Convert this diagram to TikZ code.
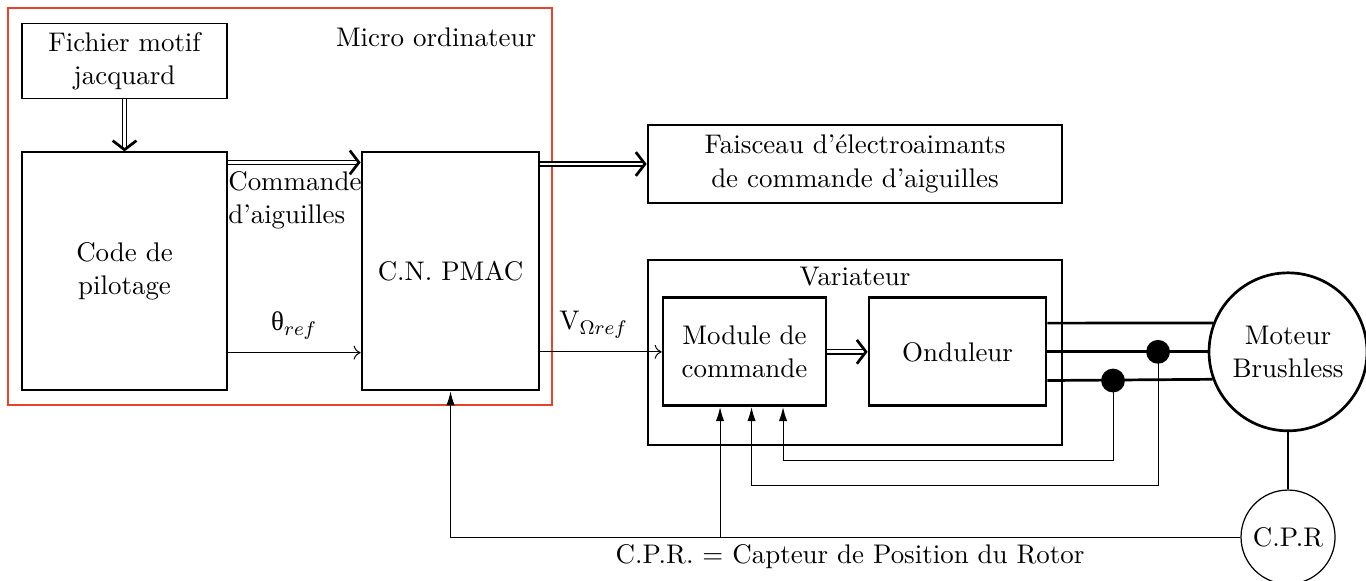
\documentclass[tikz,border=0pt]{standalone}
\usepackage{fontspec}
\newfontfamily\grk{Liberation Serif}
\usepackage{xcolor}
\usetikzlibrary{arrows.meta, calc}
\definecolor{framered}{RGB}{232,65,44}

\begin{document}
\begin{tikzpicture}[>={Stealth[length=2mm]}, every node/.style={font=\fontsize{10.95}{13.6}\selectfont},
  blk/.style={draw, align=center, line width=0.5pt},
  bigblk/.style={draw, align=center, line width=1.1pt},
  dbl/.style={double, double distance=1.2pt, line width=0.5pt, -{Straight Barb[length=1.3mm, width=3.4mm, line width=1.1pt]}},
  sig/.style={line width=0.4pt, -{To[length=1mm, width=2mm]}},
  fb/.style={line width=0.4pt, -{Latex[length=2mm, width=1.2mm]}},
  phase/.style={line width=1.1pt},
  dot/.style={circle, fill, inner sep=0pt, minimum size=0.34cm}]
  \useasboundingbox (0,0) rectangle (19.514,8.286);
  % micro ordinateur
  \node[draw=framered, line width=1pt, minimum width=7.77cm, minimum height=5.67cm, inner sep=0pt] (micro) at (4.0,5.336) {};
  \node[anchor=north east] (microlbl) at ($(micro.north east)+(-0.12,-0.18)$) {Micro ordinateur};
  \node[blk, minimum width=2.93cm, minimum height=1.03cm] (fichier) at (1.779,7.414) {Fichier motif\\jacquard};
  \node[blk, minimum width=2.93cm, minimum height=3.4cm] (code) at (1.779,4.414) {Code de\\pilotage};
  \node[bigblk, minimum width=2.53cm, minimum height=3.4cm] (pmac) at (6.436,4.414) {C.N. PMAC};
  % machine
  \node[bigblk, minimum width=5.914cm, minimum height=1.114cm] (fais) at (12.214,5.943) {Faisceau d'électroaimants\\de commande d'aiguilles};
  \node[bigblk, minimum width=5.914cm, minimum height=2.643cm] (var) at (12.214,3.25) {};
  \node[anchor=north] (varlbl) at (var.north) {Variateur};
  \node[bigblk, minimum width=2.329cm, minimum height=1.543cm] (module) at (10.636,3.26) {Module de\\commande};
  \node[bigblk, minimum width=2.529cm, minimum height=1.543cm] (ond) at (13.679,3.26) {Onduleur};
  \node[circle, draw, line width=1.1pt, minimum size=2.257cm, align=center] (motor) at (18.4,3.26) {Moteur\\Brushless};
  \node[circle, draw, line width=0.5pt, minimum size=1.343cm] (cpr) at (18.4,0.614) {C.P.R};
  \node (cprnote) at (12.143,0.329) {C.P.R. = Capteur de Position du Rotor};
  % liaisons
  \coordinate (cmd) at ($(code.north east)+(0,-0.157)$);
  \coordinate (tref) at ($(code.south east)+(0,0.543)$);
  \draw[dbl] (fichier) -- (code);
  \draw[dbl] (cmd) -- (pmac.west |- cmd) node[at start, anchor=north west, align=left, inner xsep=0pt] {Commande\\d'aiguilles};
  \draw[sig] (tref) -- (pmac.west |- tref) node[midway, above=2pt] {{\grk θ}$_{ref}$};
  \draw[dbl] (pmac.east |- fais.west) -- (fais.west);
  \draw[sig] (pmac.east |- module.west) -- (module.west) node[midway, above=2pt, xshift=-3pt] {V$_{\Omega ref}$};
  \draw[dbl] (module) -- (ond);
  \draw[phase] ($(ond.east)+(0,0.41)$) -- (motor.159.1);
  \draw[phase] (ond.east) -- (motor.west);
  \draw[phase] ($(ond.east)+(0,-0.41)$) -- (motor.200.9);
  \draw[line width=0.5pt] (motor) -- (cpr);
  % retours capteur
  \coordinate (in1) at ($(module.south)+(-0.35,0)$);
  \coordinate (in2) at ($(module.south)+(0.1,0)$);
  \coordinate (in3) at ($(module.south)+(0.55,0)$);
  \draw[fb] (cpr.west) -| (pmac.south);
  \draw[fb] (in1 |- cpr.west) -- (in1);
  \draw[fb] (15.9,2.85) -- ++(0,-1.136) -| (in3);
  \draw[fb] (16.543,3.26) -- ++(0,-1.903) -| (in2);
  \node[dot] (dotm) at (16.543,3.26) {};
  \node[dot] (dotb) at (15.9,2.85) {};
\end{tikzpicture}
\end{document}
